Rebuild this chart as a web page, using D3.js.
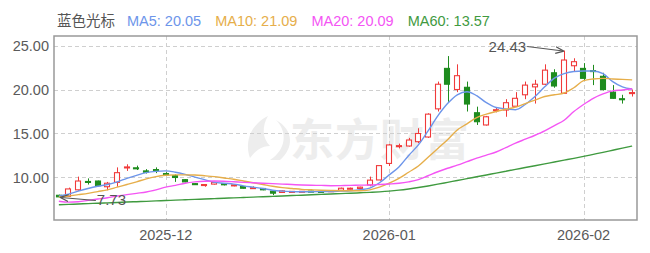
<!DOCTYPE html>
<html><head><meta charset="utf-8">
<script src="https://cdn.jsdelivr.net/npm/d3@7"></script>
<style>body{margin:0;background:#fff;} svg{display:block;}</style>
</head><body><div id="chart"></div>
<script>
const dates = [
"2025-11-14","2025-11-17","2025-11-18","2025-11-19","2025-11-20","2025-11-21","2025-11-24","2025-11-25","2025-11-26","2025-11-27","2025-11-28",
"2025-12-01","2025-12-02","2025-12-03","2025-12-04","2025-12-05","2025-12-08","2025-12-09","2025-12-10","2025-12-11","2025-12-12",
"2025-12-15","2025-12-16","2025-12-17","2025-12-18","2025-12-19","2025-12-22","2025-12-23","2025-12-24","2025-12-25","2025-12-26",
"2025-12-29","2025-12-30","2025-12-31",
"2026-01-05","2026-01-06","2026-01-07","2026-01-08","2026-01-09","2026-01-12","2026-01-13","2026-01-14","2026-01-15","2026-01-16",
"2026-01-19","2026-01-20","2026-01-21","2026-01-22","2026-01-23","2026-01-26","2026-01-27","2026-01-28","2026-01-29","2026-01-30",
"2026-02-02","2026-02-03","2026-02-04","2026-02-05","2026-02-06","2026-02-09"];
const open  = [7.98,7.85,8.60,9.55,9.60,8.95,9.45,11.10,11.10,10.75,10.90,10.45,10.20,9.75,9.30,9.10,9.25,9.30,9.12,8.98,8.80,8.75,8.45,8.30,8.38,8.40,8.45,8.42,8.40,8.55,8.70,8.75,9.15,9.72,11.60,13.55,13.58,14.07,14.60,17.80,22.40,20.00,20.25,17.36,15.97,17.60,17.67,18.10,19.40,20.30,20.60,21.90,19.57,22.70,22.40,22.15,21.50,19.70,18.95,19.55];
const high  = [8.05,8.85,10.10,9.90,9.65,9.50,11.15,11.50,11.35,10.95,11.15,10.60,10.35,9.80,9.35,9.25,9.50,9.35,9.20,9.00,9.00,8.80,8.50,8.52,8.45,8.46,8.48,8.45,8.55,8.85,8.85,8.95,10.10,11.40,13.80,13.85,14.50,15.60,17.30,20.90,23.80,22.86,20.90,18.05,17.00,18.00,18.90,19.70,20.90,21.10,22.86,22.30,24.43,23.55,23.00,22.80,21.90,20.50,19.40,20.00];
const low   = [7.73,7.80,8.50,9.20,9.00,8.55,8.95,10.75,10.85,10.45,10.50,10.20,9.50,9.45,9.15,8.95,9.20,9.10,9.00,8.75,8.70,8.55,8.00,8.28,8.35,8.36,8.36,8.34,8.35,8.50,8.65,8.70,9.00,9.65,11.30,13.30,13.50,13.90,14.50,17.50,18.60,19.70,17.50,15.97,15.90,17.40,16.90,18.00,18.90,18.40,20.50,20.20,19.50,22.00,21.08,20.50,19.90,18.95,18.40,19.20];
const close = [7.80,8.70,9.60,9.45,9.07,9.35,10.55,11.20,11.00,10.60,10.80,10.30,10.00,9.50,9.22,9.20,9.45,9.17,9.16,8.78,8.85,8.60,8.22,8.48,8.42,8.43,8.40,8.38,8.50,8.78,8.78,8.90,9.70,11.35,13.70,13.62,14.26,15.00,17.20,20.60,20.60,21.57,18.35,16.34,16.90,17.70,18.50,19.00,20.50,20.60,22.20,20.40,23.35,23.16,21.27,22.05,20.00,19.00,18.85,19.65];
const ma5  = [7.90,8.10,8.45,8.75,9.00,9.20,9.50,9.90,10.25,10.55,10.70,10.75,10.60,10.35,10.05,9.75,9.45,9.35,9.25,9.05,8.90,8.75,8.55,8.45,8.40,8.38,8.38,8.40,8.40,8.45,8.50,8.60,8.80,9.40,10.30,11.20,12.50,13.70,15.30,17.00,18.40,19.40,19.75,19.30,18.50,17.95,17.80,17.70,18.30,19.20,20.30,21.30,21.80,22.05,22.10,22.10,21.80,20.90,20.30,20.05];
const ma10 = [7.80,7.90,8.05,8.20,8.40,8.60,8.90,9.20,9.50,9.85,10.10,10.25,10.30,10.30,10.28,10.20,10.10,9.95,9.80,9.60,9.40,9.20,9.00,8.85,8.75,8.65,8.60,8.55,8.52,8.50,8.50,8.50,8.60,8.90,9.35,9.90,10.60,11.30,12.30,13.30,14.30,15.40,16.10,16.80,17.20,17.50,17.75,18.00,18.40,18.80,19.20,19.40,19.60,20.20,21.00,21.20,21.27,21.20,21.15,21.09];
const ma20 = [7.30,7.20,7.25,7.40,7.55,7.70,7.90,8.05,8.20,8.35,8.60,8.90,9.10,9.35,9.50,9.58,9.60,9.58,9.52,9.45,9.40,9.35,9.30,9.25,9.20,9.15,9.12,9.10,9.07,9.08,9.10,9.13,9.15,9.20,9.26,9.34,9.50,9.75,10.20,10.65,11.05,11.40,11.80,12.20,12.55,12.90,13.40,13.90,14.35,14.80,15.30,15.90,16.50,17.50,18.30,19.00,19.50,19.85,19.95,20.09];
const ma60 = [6.90,6.94,6.99,7.03,7.08,7.12,7.16,7.21,7.25,7.29,7.34,7.38,7.43,7.47,7.51,7.56,7.60,7.64,7.69,7.73,7.77,7.82,7.86,7.90,7.95,7.99,8.04,8.08,8.12,8.17,8.21,8.26,8.31,8.37,8.45,8.56,8.70,8.86,9.04,9.24,9.45,9.66,9.87,10.08,10.29,10.50,10.71,10.92,11.13,11.34,11.55,11.76,11.97,12.18,12.40,12.63,12.86,13.10,13.34,13.57];
const yTicks = [10, 15, 20, 25];
const monthTicks = ["2025-12-01","2026-01-05","2026-02-02"];
const monthLabels = ["2025-12","2026-01","2026-02"];
const stockName = "蓝色光标";
const maNames = ["MA5","MA10","MA20","MA60"];
const maLatest = ["20.05","21.09","20.09","13.57"];
const maColors = ["#6d95ea","#e6ae4a","#f455f4","#3f9a3f"];
const maSeries = [ma5, ma10, ma20, ma60];
const maxLabel = "24.43", minLabel = "7.73";

const W = 650, H = 253;
const M = {left: 54, right: 637, top: 36, bottom: 220};
const svg = d3.select("#chart").append("svg").attr("width", W).attr("height", H)
  .style("font-family", "'Liberation Sans', Arial, sans-serif");

const x = d3.scaleBand().domain(dates).range([M.left, M.right]).paddingInner(0).paddingOuter(0);
const y = d3.scaleLinear().domain([5.17, 26.08]).range([M.bottom, M.top]);
const cx = d => x(d) + x.bandwidth() / 2;
const bw = x.bandwidth() * 0.64;

// watermark
const wm = svg.append("g").attr("fill", "#ededed");
wm.append("path").attr("d", "M268,116 C252,124 244,140 250,158 C256,150 262,146 270,146 C262,138 262,126 268,116 Z M276,120 C288,132 286,150 270,160 L280,160 C294,148 294,130 276,120 Z");
wm.append("text").attr("x", 290).attr("y", 156).attr("font-size", 44).attr("font-weight", "bold")
  .attr("font-family", "'Noto Sans CJK SC', sans-serif").attr("letter-spacing", 1).text("东方财富");

// grid
const grid = svg.append("g").attr("stroke", "#cfcfcf").attr("stroke-dasharray", "4,3").attr("stroke-width", 1);
grid.selectAll("line.h").data(yTicks).join("line")
  .attr("x1", M.left).attr("x2", M.right).attr("y1", d => Math.round(y(d)) + 0.5).attr("y2", d => Math.round(y(d)) + 0.5);
grid.selectAll("line.v").data(monthTicks).join("line")
  .attr("x1", d => Math.round(cx(d)) + 0.5).attr("x2", d => Math.round(cx(d)) + 0.5).attr("y1", M.top).attr("y2", M.bottom);

// frame
svg.append("rect").attr("x", M.left).attr("y", M.top).attr("width", M.right - M.left).attr("height", M.bottom - M.top)
  .attr("fill", "none").attr("stroke", "#999").attr("stroke-width", 1.5);

// y axis labels
const yAxis = d3.axisLeft(y).tickValues(yTicks).tickFormat(d3.format(".2f")).tickSize(0).tickPadding(5);
const ya = svg.append("g").attr("transform", `translate(${M.left},0)`).call(yAxis);
ya.select(".domain").remove();
ya.selectAll("text").attr("font-size", 14.5).attr("fill", "#5a5a5a").attr("font-family", "'Liberation Sans', Arial, sans-serif");

// x axis labels
const xAxis = d3.axisBottom(x).tickValues(monthTicks).tickFormat((d, i) => monthLabels[i]).tickSize(0).tickPadding(10);
const xa = svg.append("g").attr("transform", `translate(0,${M.bottom})`).call(xAxis);
xa.select(".domain").remove();
xa.selectAll("text").attr("font-size", 14.5).attr("fill", "#5a5a5a").attr("font-family", "'Liberation Sans', Arial, sans-serif");

// candles
const idx = d3.range(dates.length);
const up = i => close[i] >= open[i];
const red = "#f03a3a", green = "#1e8c1e";
const cg = svg.append("g");
cg.selectAll("line.wick").data(idx).join("line")
  .attr("x1", i => Math.round(cx(dates[i])) + 0.5).attr("x2", i => Math.round(cx(dates[i])) + 0.5)
  .attr("y1", i => y(high[i])).attr("y2", i => y(low[i]))
  .attr("stroke", i => up(i) ? red : green).attr("stroke-width", 1);
cg.selectAll("rect.body").data(idx).join("rect")
  .attr("x", i => Math.round(cx(dates[i]) - bw / 2) + 0.5)
  .attr("y", i => y(Math.max(open[i], close[i])))
  .attr("width", Math.round(bw) - 1)
  .attr("height", i => Math.max(1, y(Math.min(open[i], close[i])) - y(Math.max(open[i], close[i]))))
  .attr("fill", i => up(i) ? "#fff" : green)
  .attr("stroke", i => up(i) ? red : green).attr("stroke-width", 1.1);

// MA lines
const line = d3.line().x((v, i) => cx(dates[i])).y(v => y(v)).curve(d3.curveMonotoneX);
svg.append("g").selectAll("path").data(maSeries).join("path")
  .attr("d", d => line(d)).attr("fill", "none")
  .attr("stroke", (d, i) => maColors[i]).attr("stroke-width", 1.4);

// annotations
svg.append("defs").append("marker").attr("id", "arr").attr("viewBox", "0 0 10 10").attr("refX", 9).attr("refY", 5)
  .attr("markerWidth", 7).attr("markerHeight", 7).attr("orient", "auto")
  .append("path").attr("d", "M0,1 L10,5 L0,9").attr("fill", "none").attr("stroke", "#555").attr("stroke-width", 1.5);
const iMax = high.indexOf(d3.max(high)), iMin = low.indexOf(d3.min(low));
const ann = svg.append("g").attr("font-size", 15).attr("fill", "#555");
ann.append("text").attr("x", cx(dates[iMax]) - 38).attr("y", y(d3.max(high)) + 1).attr("text-anchor", "end").text(maxLabel);
ann.append("line").attr("x1", cx(dates[iMax]) - 37).attr("y1", y(d3.max(high)) - 4)
  .attr("x2", cx(dates[iMax]) - 1).attr("y2", y(d3.max(high)) + 0.5)
  .attr("stroke", "#555").attr("stroke-width", 1.2).attr("marker-end", "url(#arr)");
ann.append("text").attr("x", cx(dates[iMin]) + 38).attr("y", y(d3.min(low)) + 8).text(minLabel);
ann.append("line").attr("x1", cx(dates[iMin]) + 37).attr("y1", y(d3.min(low)) + 3)
  .attr("x2", cx(dates[iMin]) + 2).attr("y2", y(d3.min(low)))
  .attr("stroke", "#555").attr("stroke-width", 1.2).attr("marker-end", "url(#arr)");

// legend
const lg = svg.append("g").attr("font-size", 14.5);
let lx = 57;
const t0 = lg.append("text").attr("x", lx).attr("y", 26).attr("fill", "#555")
  .attr("font-family", "'Noto Sans CJK SC', sans-serif").text(stockName);
lx += t0.node().getComputedTextLength() + 12;
maNames.forEach((n, i) => {
  const t = lg.append("text").attr("x", lx).attr("y", 26).attr("fill", maColors[i]).text(`${n}: ${maLatest[i]}`);
  lx += t.node().getComputedTextLength() + 14;
});
</script></body></html>
